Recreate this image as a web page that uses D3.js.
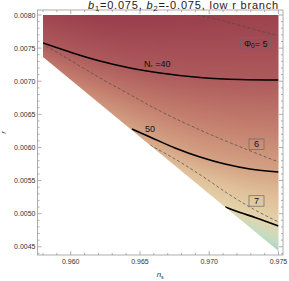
<!DOCTYPE html>
<html><head><meta charset="utf-8">
<script src="https://cdn.jsdelivr.net/npm/d3@7"></script>
<style>body{margin:0;background:#fff}svg{display:block}text{font-family:"Liberation Sans",Arial,sans-serif}</style>
</head><body>
<svg id="c" width="289" height="281"></svg>
<script>
// ---- data ----
const regionNs = [0.958, 0.975, 0.975, 0.958];
const regionR  = [0.0080, 0.0080, 0.004437, 0.007366];

const n40Ns = [0.958, 0.95995, 0.96211, 0.96428, 0.96645, 0.96933, 0.97222, 0.975];
const n40R  = [0.007577, 0.007441, 0.007305, 0.007200, 0.007124, 0.007056, 0.007026, 0.007019];
const n50Ns = [0.964425, 0.965724, 0.967529, 0.969333, 0.971138, 0.972943, 0.975];
const n50R  = [0.006279, 0.006158, 0.005992, 0.005856, 0.005750, 0.005675, 0.005629];
const n60Ns = [0.971138, 0.972220, 0.973303, 0.975];
const n60R  = [0.005101, 0.005018, 0.004943, 0.004814];

const phi5Ns = [0.969117, 0.970777, 0.972221, 0.973664, 0.975];
const phi5R  = [0.0080, 0.007925, 0.007841, 0.007758, 0.007690];
const phi6Ns = [0.958217, 0.960310, 0.962115, 0.963558, 0.966301, 0.969333, 0.972798, 0.975];
const phi6R  = [0.007532, 0.007275, 0.007049, 0.006883, 0.006566, 0.006264, 0.005962, 0.005781];
const phi7Ns = [0.965724, 0.967890, 0.969695, 0.971500, 0.973305, 0.975];
const phi7R  = [0.006037, 0.005780, 0.005539, 0.005282, 0.005056, 0.004875];

const nLevels = [40, 50, 60];
const phiLevels = [5, 6, 7];

const colourLevels = [32, 40, 45, 50, 55, 60, 63, 66];
const colourValues = ["#9a3f4d", "#ad5a5c", "#c27c6c", "#d4a284", "#e0c09a", "#e4d4ac", "#c4dcc2", "#9ccdc6"];

const xTickVals = [0.960, 0.965, 0.970, 0.975];
const xTickLabels = ["0.960", "0.965", "0.970", "0.975"];
const yTickVals = [0.0045, 0.0050, 0.0055, 0.0060, 0.0065, 0.0070, 0.0075, 0.0080];
const yTickLabels = ["0.0045", "0.0050", "0.0055", "0.0060", "0.0065", "0.0070", "0.0075", "0.0080"];

// ---- layout ----
const L = 37.5, R = 283, T = 10, B = 255;
const x = d3.scaleLinear().domain([0.957603, 0.975325]).range([L, R]);
const y = d3.scaleLinear().domain([0.004376, 0.0080755]).range([B, T]);
const colour = d3.scaleLinear().domain(colourLevels).range(colourValues).interpolate(d3.interpolateRgb).clamp(true);

const svg = d3.select("#c");
const zip = (a, b) => a.map((v, i) => [v, b[i]]);

// clip region
svg.append("clipPath").attr("id", "reg").append("path")
  .attr("d", d3.line().x(d => x(d[0])).y(d => y(d[1]))(zip(regionNs, regionR)) + "Z");

// colour field from the N contours
function interp(pts, px) {
  let i = 0;
  if (px <= pts[0][0]) i = 0;
  else if (px >= pts[pts.length - 1][0]) i = pts.length - 2;
  else { while (pts[i + 1][0] < px) i++; }
  const [x0, y0] = pts[i], [x1, y1] = pts[i + 1];
  return y0 + (y1 - y0) * (px - x0) / (x1 - x0);
}
const nPx = [zip(n40Ns, n40R), zip(n50Ns, n50R), zip(n60Ns, n60R)].map(a => a.map(d => [x(d[0]), y(d[1])]));
const cv = document.createElement("canvas");
cv.width = 289; cv.height = 281;
const ctx = cv.getContext("2d");
const img = ctx.createImageData(289, 281);
const x0p = Math.floor(x(regionNs[0])) - 1, x1p = Math.ceil(x(regionNs[1])) + 1;
for (let px = x0p; px <= x1p; px++) {
  const cx = px + 0.5;
  const ys = nPx.map(p => interp(p, cx));
  for (let py = Math.floor(y(0.0080)) - 1; py <= B; py++) {
    const cy = py + 0.5;
    let n;
    if (cy <= ys[1]) n = nLevels[0] + (cy - ys[0]) / (ys[1] - ys[0]) * (nLevels[1] - nLevels[0]);
    else n = nLevels[1] + (cy - ys[1]) / (ys[2] - ys[1]) * (nLevels[2] - nLevels[1]);
    const c = d3.rgb(colour(n));
    const k = (py * 289 + px) * 4;
    img.data[k] = c.r; img.data[k + 1] = c.g; img.data[k + 2] = c.b; img.data[k + 3] = 255;
  }
}
ctx.putImageData(img, 0, 0);
const g = svg.append("g").attr("clip-path", "url(#reg)");
g.append("image").attr("href", cv.toDataURL()).attr("x", 0).attr("y", 0).attr("width", 289).attr("height", 281);

const line = d3.line().x(d => x(d[0])).y(d => y(d[1])).curve(d3.curveMonotoneX);
[[phi5Ns, phi5R], [phi6Ns, phi6R], [phi7Ns, phi7R]].forEach(([a, b]) => {
  g.append("path").attr("d", line(zip(a, b))).attr("fill", "none")
    .attr("stroke", "#4a4a4a").attr("stroke-width", 0.7).attr("stroke-dasharray", "3,2.2");
});
[[n40Ns, n40R], [n50Ns, n50R], [n60Ns, n60R]].forEach(([a, b]) => {
  g.append("path").attr("d", line(zip(a, b))).attr("fill", "none")
    .attr("stroke", "#000").attr("stroke-width", 1.6);
});

// contour labels
const lab = svg.append("g").attr("font-size", 9).attr("fill", "#111");
const t40 = lab.append("text").attr("x", x(0.96529)).attr("y", y(0.007215));
t40.append("tspan").text("N");
t40.append("tspan").attr("font-size", 5.5).attr("dy", 2).text("*");
t40.append("tspan").attr("dy", -2).text(" =" + nLevels[0]);
lab.append("text").attr("x", x(0.965363)).attr("y", y(0.006233)).text(nLevels[1]);

function boxLabel(ns, r, w, h, build) {
  const cxp = x(ns), cyp = y(r);
  lab.append("rect").attr("x", cxp - w / 2).attr("y", cyp - h / 2).attr("width", w).attr("height", h)
    .attr("fill", "none").attr("stroke", "#6a6a6a").attr("stroke-width", 0.7);
  const t = lab.append("text").attr("x", cxp).attr("y", cyp + 3.2).attr("text-anchor", "middle");
  build(t);
}
boxLabel(0.973354, 0.007570, 30, 11.6, t => {
  t.append("tspan").text("Φ");
  t.append("tspan").attr("font-size", 6.5).attr("dy", 1.8).text("0");
  t.append("tspan").attr("dy", -1.8).text("= " + phiLevels[0]);
});
boxLabel(0.973412, 0.006049, 15, 10.5, t => t.text(phiLevels[1]));
boxLabel(0.973412, 0.005192, 15, 10.5, t => t.text(phiLevels[2]));

// frame and ticks
const fr = svg.append("g").attr("stroke", "#9a9a9a").attr("stroke-width", 0.8).attr("fill", "none");
fr.append("rect").attr("x", L).attr("y", T).attr("width", R - L).attr("height", B - T);
const xMinor = d3.range(958, 976).map(v => v / 1000);
const yMinor = d3.range(44, 81).map(v => v / 10000);
const isMaj = (v, arr) => arr.some(a => Math.abs(a - v) < 1e-9);
xMinor.forEach(v => {
  const len = isMaj(v, xTickVals) ? 4 : 2;
  const px = x(v);
  fr.append("line").attr("x1", px).attr("x2", px).attr("y1", B).attr("y2", B - len);
  fr.append("line").attr("x1", px).attr("x2", px).attr("y1", T).attr("y2", T + len);
});
yMinor.forEach(v => {
  const len = isMaj(v, yTickVals) ? 4 : 2;
  const py = y(v);
  fr.append("line").attr("y1", py).attr("y2", py).attr("x1", L).attr("x2", L + len);
  fr.append("line").attr("y1", py).attr("y2", py).attr("x1", R).attr("x2", R - len);
});
const tk = svg.append("g").attr("font-size", 7).attr("fill", "#333");
xTickVals.forEach((v, i) => tk.append("text").attr("x", x(v)).attr("y", 264).attr("text-anchor", "middle").text(xTickLabels[i]));
yTickVals.forEach((v, i) => tk.append("text").attr("x", 35.5).attr("y", y(v) + 2.5).attr("text-anchor", "end").text(yTickLabels[i]));

// axis titles
const xt = svg.append("text").attr("x", (L + R) / 2).attr("y", 277).attr("text-anchor", "middle").attr("font-size", 8).attr("fill", "#333");
xt.append("tspan").attr("font-style", "italic").text("n");
xt.append("tspan").attr("font-size", 5.5).attr("dy", 1.8).text("s");
svg.append("text").attr("transform", `translate(6,${(T + B) / 2}) rotate(-90)`).attr("text-anchor", "middle")
  .attr("font-size", 8).attr("font-style", "italic").attr("fill", "#333").text("r");

// title
const tt = svg.append("text").attr("x", 88).attr("y", 8.8).attr("font-size", 11).attr("fill", "#222");
tt.append("tspan").attr("font-style", "italic").text("b");
tt.append("tspan").attr("font-size", 7.5).attr("dy", 2).text("1");
tt.append("tspan").attr("dy", -2).text("=0.075, ");
tt.append("tspan").attr("font-style", "italic").text("b");
tt.append("tspan").attr("font-size", 7.5).attr("dy", 2).text("2");
tt.append("tspan").attr("dy", -2).text("=-0.075, low r branch");
const w = tt.node().getComputedTextLength();
const nChars = tt.text().length;
if (w < 191) tt.attr("letter-spacing", ((191 - w) / nChars).toFixed(3));
</script>
</body></html>
